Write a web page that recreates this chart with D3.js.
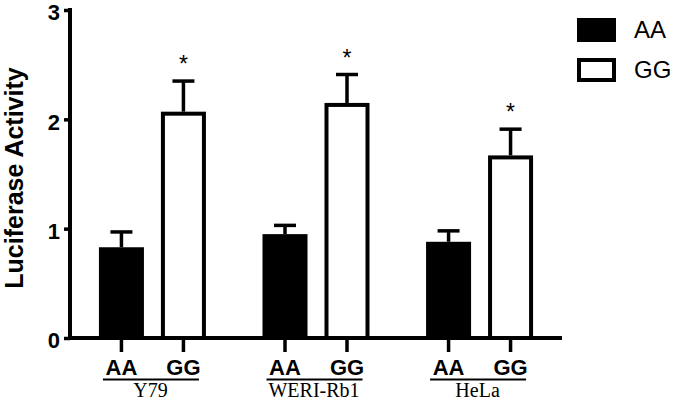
<!DOCTYPE html>
<html><head><meta charset="utf-8">
<script src="https://cdn.jsdelivr.net/npm/d3@7"></script>
<style>body{margin:0;background:#fff}svg{display:block}</style>
</head><body>
<svg id="chart" width="675" height="402"></svg>
<script>
const groups = ["Y79", "WERI-Rb1", "HeLa"];
const genotypes = ["AA", "GG"];
const aaValues = [0.83, 0.95, 0.88];
const ggValues = [2.07, 2.15, 1.67];
const aaErrors = [0.14, 0.08, 0.10];
const ggErrors = [0.28, 0.26, 0.24];
const significant = [true, true, true];
const yTicks = [0, 1, 2, 3];
const yLabel = "Luciferase Activity";

const svg = d3.select("#chart");
const mLeft = 70, mRight = 562, mTop = 10, mBottom = 338;
const y = d3.scaleLinear().domain([0, 3]).range([mBottom, mTop]);
const x0 = d3.scalePoint().domain(groups).range([mLeft, mRight]).padding(0.504);
const x1 = d3.scaleBand().domain(genotypes).range([-53.5, 53.5]).paddingInner(0.274).paddingOuter(0);
const bw = x1.bandwidth();
const sans = "Liberation Sans, Arial, sans-serif";

const data = [];
groups.forEach((g, i) => {
  data.push({g, t: "AA", v: aaValues[i], e: aaErrors[i], sig: false});
  data.push({g, t: "GG", v: ggValues[i], e: ggErrors[i], sig: significant[i]});
});
const cx = d => x0(d.g) + x1(d.t) + bw / 2;

// error bars
const eb = svg.append("g").attr("stroke", "#000").attr("stroke-width", 3.5);
data.forEach(d => {
  eb.append("line").attr("x1", cx(d)).attr("x2", cx(d)).attr("y1", y(d.v)).attr("y2", y(d.v + d.e));
  eb.append("line").attr("x1", cx(d) - 11).attr("x2", cx(d) + 11).attr("y1", y(d.v + d.e)).attr("y2", y(d.v + d.e));
});

// bars
data.forEach(d => {
  const x = x0(d.g) + x1(d.t);
  if (d.t === "AA") {
    svg.append("rect").attr("x", x).attr("y", y(d.v)).attr("width", bw).attr("height", y(0) - y(d.v)).attr("fill", "#000");
  } else {
    svg.append("rect").attr("x", x + 2).attr("y", y(d.v) + 2).attr("width", bw - 4).attr("height", y(0) - y(d.v) - 2)
      .attr("fill", "#fff").attr("stroke", "#000").attr("stroke-width", 4);
  }
  if (d.sig) {
    svg.append("text").attr("x", cx(d)).attr("y", y(d.v + d.e) - 9).attr("text-anchor", "middle")
      .attr("font-family", sans).attr("font-size", 23).text("*");
  }
});

// y axis
const yAxis = svg.append("g").attr("transform", `translate(${mLeft},0)`)
  .call(d3.axisLeft(y).tickValues(yTicks).tickFormat(d3.format("d")).tickSize(6).tickPadding(4));
yAxis.select(".domain").attr("d", `M0,${mTop - 2}V${mBottom + 2}`).attr("stroke-width", 4).attr("stroke", "#000");
yAxis.selectAll(".tick line").attr("stroke-width", 3.5).attr("stroke", "#000");
yAxis.selectAll(".tick text").attr("font-family", sans).attr("font-weight", "bold")
  .attr("font-size", 22).attr("fill", "#000").attr("dy", "0.44em");

// x axis line
svg.append("line").attr("x1", mLeft - 2).attr("x2", mRight).attr("y1", mBottom).attr("y2", mBottom)
  .attr("stroke", "#000").attr("stroke-width", 4);

// x ticks and labels
data.forEach(d => {
  svg.append("line").attr("x1", cx(d)).attr("x2", cx(d)).attr("y1", mBottom).attr("y2", mBottom + 14)
    .attr("stroke", "#000").attr("stroke-width", 3.5);
  svg.append("text").attr("x", cx(d)).attr("y", 375).attr("text-anchor", "middle")
    .attr("font-family", sans).attr("font-weight", "bold").attr("font-size", 22).text(d.t);
});
groups.forEach(g => {
  const xa = x0(g) + x1("AA"), xb = x0(g) + x1("GG") + bw;
  svg.append("line").attr("x1", xa + 4).attr("x2", xb - 7).attr("y1", 379.5).attr("y2", 379.5).attr("stroke", "#000").attr("stroke-width", 1.8);
  svg.append("text").attr("x", x0(g) - 2).attr("y", 397).attr("text-anchor", "middle")
    .attr("font-family", "Liberation Serif, Times New Roman, serif").attr("font-size", 20).text(g);
});

// y label
svg.append("text").attr("transform", `translate(23,${(mTop + mBottom) / 2 + 4}) rotate(-90)`).attr("text-anchor", "middle")
  .attr("font-family", sans).attr("font-weight", "bold").attr("font-size", 25)
  .text(yLabel);

// legend
genotypes.forEach((t, i) => {
  const ly = 18 + i * 40;
  if (t === "AA") svg.append("rect").attr("x", 577).attr("y", ly).attr("width", 39).attr("height", 24).attr("fill", "#000");
  else svg.append("rect").attr("x", 579).attr("y", ly + 2).attr("width", 35).attr("height", 20).attr("fill", "#fff").attr("stroke", "#000").attr("stroke-width", 4);
  svg.append("text").attr("x", 634).attr("y", ly + 20).attr("font-family", sans).attr("font-size", 24).text(t);
});
</script>
</body></html>
